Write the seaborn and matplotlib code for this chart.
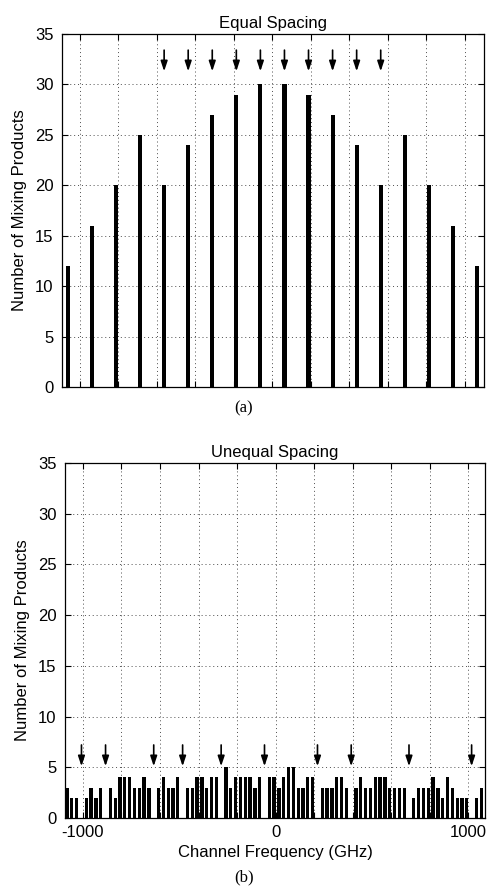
import matplotlib
matplotlib.use("Agg")
import matplotlib.pyplot as plt
import seaborn as sns
import pandas as pd

# ---------------- data ----------------
# (a) equal channel spacing: mixing-product frequencies (GHz) and counts
eq_freq = [-1062.5, -937.5, -812.5, -687.5, -562.5, -437.5, -312.5, -187.5, -62.5,
           62.5, 187.5, 312.5, 437.5, 562.5, 687.5, 812.5, 937.5, 1062.5]
eq_count = [12, 16, 20, 25, 20, 24, 27, 29, 30,
            30, 29, 27, 24, 20, 25, 20, 16, 12]
eq_channels = [-562.5, -437.5, -312.5, -187.5, -62.5, 62.5, 187.5, 312.5, 437.5, 562.5]

# (b) unequal channel spacing
uneq_freq = [-1082.5, -1057.5, -1032.5, -1007.5, -982.5, -957.5, -932.5, -907.5,
             -882.5, -857.5, -832.5, -807.5, -782.5, -757.5, -732.5, -707.5,
             -682.5, -657.5, -632.5, -607.5, -582.5, -557.5, -532.5, -507.5,
             -482.5, -457.5, -432.5, -407.5, -382.5, -357.5, -332.5, -307.5,
             -282.5, -257.5, -232.5, -207.5, -182.5, -157.5, -132.5, -107.5,
             -82.5, -57.5, -32.5, -7.5, 17.5, 42.5, 67.5, 92.5,
             117.5, 142.5, 167.5, 192.5, 217.5, 242.5, 267.5, 292.5,
             317.5, 342.5, 367.5, 392.5, 417.5, 442.5, 467.5, 492.5,
             517.5, 542.5, 567.5, 592.5, 617.5, 642.5, 667.5, 692.5,
             717.5, 742.5, 767.5, 792.5, 817.5, 842.5, 867.5, 892.5,
             917.5, 942.5, 967.5, 992.5, 1017.5, 1042.5, 1067.5]
uneq_count = [3, 2, 2, 0, 2, 3, 2, 3,
              0, 3, 2, 4, 4, 4, 3, 3,
              4, 3, 0, 3, 4, 3, 3, 4,
              0, 3, 3, 4, 4, 3, 4, 4,
              0, 5, 3, 4, 4, 4, 4, 3,
              4, 0, 4, 4, 3, 4, 5, 5,
              3, 3, 4, 4, 0, 3, 3, 3,
              4, 4, 3, 0, 3, 4, 3, 3,
              4, 4, 4, 3, 3, 3, 3, 0,
              2, 3, 3, 3, 4, 3, 2, 4,
              3, 2, 2, 2, 0, 2, 3]
uneq_channels = [-1007.5, -882.5, -632.5, -482.5, -282.5, -57.5,
                 217.5, 392.5, 692.5, 1017.5]

x_ticks = [-1000, -800, -600, -400, -200, 0, 200, 400, 600, 800, 1000]
x_ticklabels = ["-1000", "", "", "", "", "0", "", "", "", "", "1000"]
y_ticks = [0, 5, 10, 15, 20, 25, 30, 35]

# ---------------- style ----------------
sns.set_theme(style="ticks")
plt.rcParams.update({
    "font.family": ["Liberation Sans", "DejaVu Sans"],
    "font.size": 12,
    "axes.edgecolor": "black",
    "axes.linewidth": 0.9,
    "axes.labelcolor": "black",
    "xtick.color": "black",
    "ytick.color": "black",
    "text.color": "black",
    "xtick.direction": "in",
    "ytick.direction": "in",
    "xtick.top": True,
    "ytick.right": True,
    "xtick.major.size": 4,
    "ytick.major.size": 4,
    "xtick.major.width": 0.8,
    "ytick.major.width": 0.8,
    "xtick.labelsize": 12,
    "ytick.labelsize": 12,
    "xtick.major.pad": 5,
    "ytick.major.pad": 6,
})

W, H = 488, 889
fig = plt.figure(figsize=(W / 100, H / 100), dpi=100)
ax1 = fig.add_axes([62 / W, 1 - 387 / H, 422 / W, 353 / H])
ax2 = fig.add_axes([65 / W, 1 - 818 / H, 420 / W, 355 / H])


def panel(ax, freq, count, chans, width, xlim, tail, tip, title, show_xlabels):
    df = pd.DataFrame({"freq": freq, "count": count})
    sns.barplot(data=df, x="freq", y="count", native_scale=True, orient="x",
                width=width, color="black", saturation=1, errorbar=None,
                linewidth=0, ax=ax)
    for c in chans:
        ax.annotate("", xy=(c, tip), xytext=(c, tail),
                    arrowprops=dict(arrowstyle="-|>,head_length=0.6,head_width=0.2",
                                    mutation_scale=10, lw=1.2, color="black",
                                    shrinkA=0, shrinkB=0))
    ax.set_xlim(*xlim)
    ax.set_ylim(0, 35)
    ax.set_xticks(x_ticks)
    ax.set_yticks(y_ticks)
    ax.set_yticklabels([str(v) for v in y_ticks])
    if show_xlabels:
        ax.set_xticklabels(x_ticklabels)
        ax.set_xlabel("Channel Frequency (GHz)", fontsize=12, labelpad=4)
    else:
        ax.set_xticklabels([])
        ax.set_xlabel("")
    ax.set_ylabel("Number of Mixing Products", fontsize=12, labelpad=6)
    ax.set_title(title, fontsize=12, pad=4)
    ax.set_axisbelow(True)
    ax.grid(True, color="0.3", linestyle=(0, (1, 3)), linewidth=0.7)
    for s in ax.spines.values():
        s.set_visible(True)


panel(ax1, eq_freq, eq_count, eq_channels, 0.17, (-1093, 1099), 33.4, 31.3,
      "Equal Spacing", False)
panel(ax2, uneq_freq, uneq_count, uneq_channels, 0.68, (-1093, 1087), 7.2, 5.1,
      "Unequal Spacing", True)

fig.text(244 / W, 1 - 408 / H, "(a)", family=["Liberation Serif", "DejaVu Serif"],
         fontsize=12, ha="center", va="center")
fig.text(244 / W, 1 - 877 / H, "(b)", family=["Liberation Serif", "DejaVu Serif"],
         fontsize=12, ha="center", va="center")

fig.savefig("out.png", dpi=100)
